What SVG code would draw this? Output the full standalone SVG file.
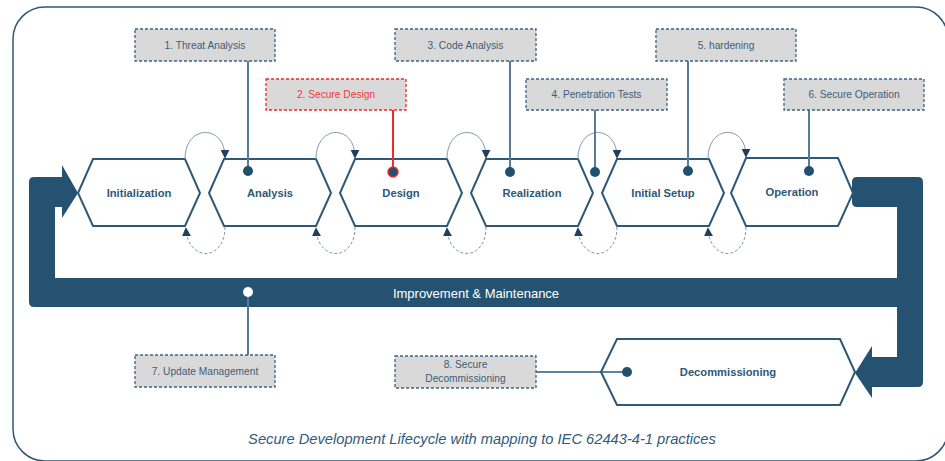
<svg xmlns="http://www.w3.org/2000/svg" width="945" height="461" viewBox="0 0 945 461">
<defs>
<marker id="ah" viewBox="0 0 10 10" refX="8" refY="5" markerWidth="9" markerHeight="9" markerUnits="userSpaceOnUse" orient="auto">
<path d="M0,0 L10,5 L0,10 Z" fill="#1f3f5a"/>
</marker>
</defs>
<style>
.frame{fill:none;stroke:#2f5877;stroke-width:1.5}
.band{fill:#255270}
.hex{fill:#ffffff;stroke:#2d5878;stroke-width:2}
.hl{font-family:"Liberation Sans",Arial,sans-serif;font-size:11.2px;font-weight:bold;fill:#2d5878;text-anchor:middle}
.box{fill:#d9d9d9;stroke:#3d6383;stroke-width:1.3;stroke-dasharray:3,2}
.boxr{fill:#d9d9d9;stroke:#ee2a2a;stroke-width:1.3;stroke-dasharray:3,2}
.bt{font-family:"Liberation Sans",Arial,sans-serif;font-size:10.2px;fill:#3f5d78;text-anchor:middle}
.btr{font-family:"Liberation Sans",Arial,sans-serif;font-size:10.2px;fill:#ee3b3b;text-anchor:middle}
.ln{stroke:#587a96;stroke-width:2;fill:none}
.lnr{stroke:#ee2a2a;stroke-width:2;fill:none}
.dot{fill:#22506f}
.loop{fill:none;stroke:#8796a5;stroke-width:1}
.dloop{fill:none;stroke:#8796a5;stroke-width:1;stroke-dasharray:3,2}
</style>
<rect class="frame" x="13" y="7" width="935" height="454" rx="32"/>

<g id="loop-arrows">
<path class="band" d="M62,165 L78,193 L62,218 V207 H55 V278 H900 V307 H34 Q29,307 29,302 V182 Q29,177 34,177 H62 Z"/>
<path class="band" d="M857,177 H918 Q923,177 923,182 V382 Q923,387 918,387 H872 V398 L855,373 L872,346 V357 H897 V207 H857 Q852,207 852,202 V182 Q852,177 857,177 Z"/>
<text x="476" y="297.5" font-family="Liberation Sans, Arial, sans-serif" font-size="13" fill="#ffffff" text-anchor="middle">Improvement &amp; Maintenance</text>
</g>

<g id="n-init"><polygon class="hex" points="93,159 185,159 200,193 185,226 93,226 78,193"/><text class="hl" x="139" y="197">Initialization</text></g>
<g id="n-analysis"><polygon class="hex" points="224,159 316,159 331,193 316,226 224,226 209,193"/><text class="hl" x="270" y="197">Analysis</text></g>
<g id="n-design"><polygon class="hex" points="355,159 447,159 462,193 447,226 355,226 340,193"/><text class="hl" x="401" y="197">Design</text></g>
<g id="n-realization"><polygon class="hex" points="486,159 578,159 593,193 578,226 486,226 471,193"/><text class="hl" x="532" y="197">Realization</text></g>
<g id="n-setup"><polygon class="hex" points="617,159 709,159 724,193 709,226 617,226 602,193"/><text class="hl" x="663" y="197">Initial Setup</text></g>
<g id="n-operation"><polygon class="hex" points="746,158 838,158 853,193 838,226 746,226 731,193"/><text class="hl" x="792" y="196">Operation</text></g>
<g id="n-decom"><polygon class="hex" points="617,339 840,339 855,372 840,405 617,405 601,372"/><text class="hl" x="728" y="376">Decommissioning</text></g>

<g id="connectors">
<path class="loop" d="M185,159 C185,124 225,124 225,157" marker-end="url(#ah)"/>
<path class="loop" d="M316,159 C316,124 355,124 355,157" marker-end="url(#ah)"/>
<path class="loop" d="M447,159 C447,124 486,124 486,157" marker-end="url(#ah)"/>
<path class="loop" d="M578,159 C578,124 617,124 617,157" marker-end="url(#ah)"/>
<path class="loop" d="M708,159 C708,124 746,124 746,156" marker-end="url(#ah)"/>
<path class="dloop" d="M225,227 C225,262 188,262 186,229" marker-end="url(#ah)"/>
<path class="dloop" d="M355,227 C355,262 318,262 316,229" marker-end="url(#ah)"/>
<path class="dloop" d="M486,227 C486,262 449,262 447,229" marker-end="url(#ah)"/>
<path class="dloop" d="M617,227 C617,262 580,262 578,229" marker-end="url(#ah)"/>
<path class="dloop" d="M746,227 C746,262 710,262 708,229" marker-end="url(#ah)"/>

<line class="ln" x1="248" y1="61" x2="248" y2="171"/>
<line class="lnr" x1="393" y1="110" x2="393" y2="172"/>
<line class="ln" x1="510" y1="61" x2="510" y2="172"/>
<line class="ln" x1="595" y1="110" x2="595" y2="172"/>
<line class="ln" x1="688" y1="61" x2="688" y2="171"/>
<line class="ln" x1="809" y1="110" x2="809" y2="171"/>
<line class="ln" x1="248" y1="293" x2="248" y2="355"/>
<line x1="536" y1="372" x2="627" y2="372" stroke="#2d5878" stroke-width="1.5"/>
<circle class="dot" cx="248" cy="171" r="5"/>
<circle cx="393" cy="172" r="5" fill="#22506f" stroke="#ee2a2a" stroke-width="1.5"/>
<circle class="dot" cx="510" cy="172" r="5"/>
<circle class="dot" cx="595" cy="172" r="5"/>
<circle class="dot" cx="688" cy="171" r="5"/>
<circle class="dot" cx="809" cy="171" r="5"/>
<circle cx="248" cy="292" r="5" fill="#ffffff"/>
<circle class="dot" cx="627" cy="372" r="5"/>
</g>

<g id="c1"><rect class="box" x="135" y="29" width="140" height="32"/><text class="bt" x="205" y="48.5">1. Threat Analysis</text></g>
<g id="c2"><rect class="boxr" x="266" y="79" width="140" height="31"/><text class="btr" x="336" y="98">2. Secure Design</text></g>
<g id="c3"><rect class="box" x="395" y="29" width="141" height="32"/><text class="bt" x="465.5" y="48.5">3. Code Analysis</text></g>
<g id="c4"><rect class="box" x="526" y="79" width="141" height="31"/><text class="bt" x="596.5" y="98">4. Penetration Tests</text></g>
<g id="c5"><rect class="box" x="656" y="29" width="140" height="32"/><text class="bt" x="726" y="48.5">5. hardening</text></g>
<g id="c6"><rect class="box" x="784" y="79" width="140" height="31"/><text class="bt" x="854" y="98">6. Secure Operation</text></g>
<g id="c7"><rect class="box" x="135" y="355" width="140" height="32"/><text class="bt" x="205" y="374.5">7. Update Management</text></g>
<g id="c8"><rect class="box" x="395" y="356" width="141" height="32"/><text class="bt" x="465.5" y="368">8. Secure</text><text class="bt" x="465.5" y="382">Decommissioning</text></g>

<text x="482" y="444" font-family="Liberation Sans, Arial, sans-serif" font-size="14.7" font-style="italic" fill="#2f5b7c" text-anchor="middle">Secure Development Lifecycle with mapping to IEC 62443-4-1 practices</text>
</svg>
